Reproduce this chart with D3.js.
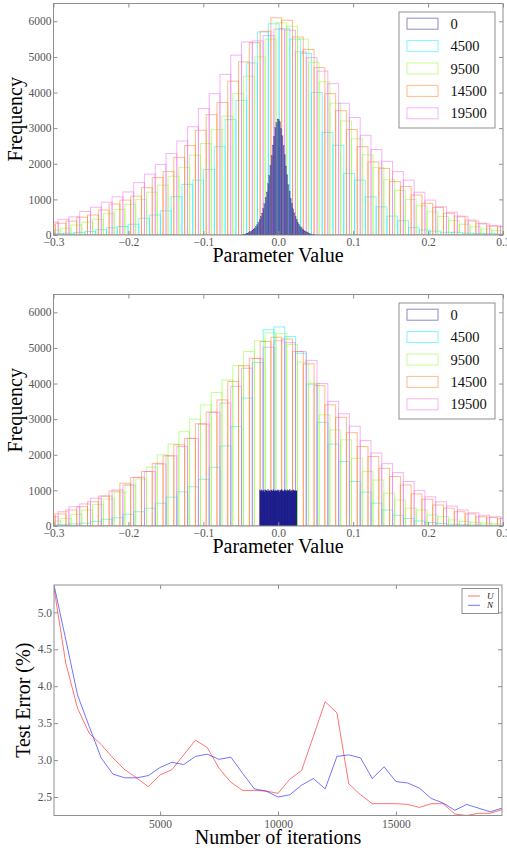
<!DOCTYPE html>
<html><head><meta charset="utf-8">
<script src="https://cdn.jsdelivr.net/npm/d3@7"></script>
<style>body{margin:0;background:#fff}svg{display:block}</style>
</head><body>
<svg id="c" width="507" height="848"></svg>
<script>
// ---------- DATA ----------
const seriesLabels = ["0", "4500", "9500", "14500", "19500"];
const histXTicks = [-0.3, -0.2, -0.1, 0.0, 0.1, 0.2, 0.3];
const histYTicks = [0, 1000, 2000, 3000, 4000, 5000, 6000];
const binWidth = 0.0144;
const fineBinWidth = 0.0016;
const uniformBinWidth = 0.001;

// top panel (Gaussian initialisation)
const topIter0Start = -0.048;
const topIter0 = [9, 19, 27, 42, 53, 72, 88, 112, 133, 168, 198, 243, 288, 360, 428, 525, 615, 745, 875, 1050, 1210, 1440, 1670, 1960, 2230, 2530, 2770, 3010, 3160, 3260,
                  3240, 3180, 2990, 2790, 2510, 2250, 1940, 1690, 1420, 1230, 1030, 890, 735, 625, 515, 435, 350, 295, 235, 205, 160, 138, 108, 92, 68, 57, 38, 29, 17, 11];
const topStarts = [-0.3013, -0.3055, -0.3122, -0.3082];
const topIter4500 = [40, 50, 70, 100, 150, 200, 240, 300, 470, 560, 680, 1075, 1420, 1540, 1840, 2480, 3240, 3780, 4830, 5700, 5930, 5790, 5500, 5100, 4000, 2880, 2520, 1730, 1540, 1070, 790, 530, 400, 205, 140, 110, 75, 75, 50, 45, 40, 35, 30];
const topIter9500 = [140, 190, 280, 360, 440, 600, 720, 860, 1000, 1200, 1400, 1650, 1900, 2240, 2570, 2960, 3340, 3970, 4460, 5000, 5500, 5960, 5860, 5500, 4850, 4300, 3700, 3200, 2700, 2250, 1900, 1550, 1250, 1000, 820, 650, 520, 400, 300, 230, 170, 120, 90];
const topIter14500 = [290, 330, 390, 500, 560, 700, 870, 980, 1090, 1330, 1610, 1780, 2180, 2510, 2940, 3380, 3720, 4320, 4860, 5400, 5720, 6100, 6030, 5560, 5210, 4700, 3970, 3490, 2960, 2480, 2050, 1870, 1500, 1360, 1120, 890, 775, 610, 530, 420, 330, 250, 230];
const topIter19500 = [360, 440, 510, 660, 780, 920, 1070, 1210, 1470, 1710, 1980, 2290, 2640, 3040, 3550, 3970, 4510, 5050, 5420, 5450, 5600, 5780, 5750, 5140, 4980, 4600, 4250, 3700, 3300, 2800, 2400, 2070, 1780, 1540, 1200, 980, 790, 640, 510, 390, 310, 260, 240];

// middle panel (uniform initialisation)
const midIter0Start = -0.025;
const midIter0 = [1010, 985, 1020, 970, 995, 1005, 960, 1015, 990, 1000, 975, 1025, 980, 1000, 965, 1010, 995, 985, 1020, 990,
                  970, 1005, 1000, 980, 1015, 995, 960, 1010, 990, 1030, 985, 1000, 975, 1020, 995, 1005, 970, 1015, 990, 1000,
                  1025, 980, 1010, 965, 1000, 1015, 985, 1005, 975, 990];
const midStarts = [-0.3081, -0.3055, -0.3122, -0.3082];
const midIter4500 = [30, 40, 60, 80, 130, 190, 230, 330, 400, 500, 640, 810, 960, 1100, 1310, 1650, 2250, 2790, 3590, 4590, 5510, 5590, 5320, 4850, 3980, 2910, 2300, 1810, 1250, 950, 640, 450, 300, 210, 140, 100, 70, 50, 40, 30, 25, 20, 15];
const midIter9500 = [140, 215, 330, 450, 600, 760, 950, 1150, 1320, 1650, 2000, 2300, 2650, 3000, 3400, 3750, 4100, 4500, 4900, 5200, 5420, 5400, 5100, 4600, 4010, 3120, 2700, 2420, 1900, 1530, 1290, 920, 730, 500, 450, 310, 260, 170, 130, 100, 80, 60, 50];
const midIter14500 = [280, 340, 450, 540, 680, 840, 980, 1200, 1360, 1530, 1760, 1970, 2280, 2460, 2870, 3200, 3540, 4060, 4500, 4710, 5180, 5300, 5250, 4900, 4550, 3940, 3400, 3050, 2620, 2230, 1950, 1620, 1390, 1150, 900, 750, 590, 500, 400, 340, 260, 235, 205];
const midIter19500 = [260, 400, 540, 620, 780, 840, 1010, 1150, 1370, 1530, 1740, 1970, 2230, 2460, 2860, 3190, 3450, 3920, 4430, 4700, 5020, 5200, 5150, 4900, 4650, 4000, 3500, 3150, 2800, 2400, 2050, 1750, 1500, 1250, 1000, 820, 680, 560, 450, 370, 300, 260, 230];

// bottom panel (test error)
const iterations = [500, 1000, 1500, 2000, 2500, 3000, 3500, 4000, 4500, 5000, 5500, 6000, 6500, 7000, 7500, 8000, 8500, 9000, 9500, 10000,
                    10500, 11000, 11500, 12000, 12500, 13000, 13500, 14000, 14500, 15000, 15500, 16000, 16500, 17000, 17500, 18000, 18500, 19000, 19500];
const errUniform = [5.33, 4.31, 3.70, 3.36, 3.21, 3.03, 2.87, 2.76, 2.64, 2.80, 2.87, 3.07, 3.27, 3.17, 2.89, 2.70, 2.59, 2.59, 2.58, 2.55,
                    2.74, 2.86, 3.32, 3.79, 3.64, 2.68, 2.53, 2.41, 2.41, 2.41, 2.40, 2.36, 2.41, 2.41, 2.27, 2.25, 2.28, 2.28, 2.33];
const errNormal = [5.37, 4.63, 3.88, 3.45, 3.03, 2.81, 2.76, 2.76, 2.79, 2.90, 2.97, 2.94, 3.05, 3.08, 3.01, 3.04, 2.82, 2.61, 2.58, 2.50,
                   2.53, 2.66, 2.75, 2.61, 3.05, 3.07, 3.03, 2.75, 2.91, 2.71, 2.69, 2.62, 2.48, 2.42, 2.32, 2.40, 2.35, 2.30, 2.35];
const lineLabels = ["U", "N"];
const errXTicks = [5000, 10000, 15000];
const errYTicks = [2.5, 3.0, 3.5, 4.0, 4.5, 5.0];

// ---------- STYLE ----------
const colors = ["#1a1a8c", "#00eeff", "#88ff22", "#ff7a1a", "#ee6cee"];
const serif = "'Liberation Serif','Times New Roman',serif";
const frameColor = "#8f8f8f";
const tickColor = "#555";

const svg = d3.select("#c");

function frameAndAxes(g, xs, ys, xt, yt, xfmt, yfmt, xpad, ypad) {
  const [x0, x1] = xs.range(), [y0, y1] = ys.range();
  const styleAx = sel => {
    sel.select(".domain").remove();
    sel.selectAll(".tick line").attr("stroke", frameColor);
    sel.selectAll(".tick text").attr("font-family", serif).attr("font-size", 11.5).attr("fill", tickColor);
  };
  g.append("g").attr("transform", `translate(0,${y0})`)
    .call(d3.axisBottom(xs).tickValues(xt).tickFormat(xfmt).tickSizeInner(-4).tickSizeOuter(0).tickPadding(xpad)).call(styleAx);
  g.append("g").attr("transform", `translate(0,${y1})`)
    .call(d3.axisTop(xs).tickValues(xt).tickFormat("").tickSizeInner(-4).tickSizeOuter(0)).call(styleAx);
  g.append("g").attr("transform", `translate(${x0},0)`)
    .call(d3.axisLeft(ys).tickValues(yt).tickFormat(yfmt).tickSizeInner(-4).tickSizeOuter(0).tickPadding(ypad)).call(styleAx);
  g.append("g").attr("transform", `translate(${x1},0)`)
    .call(d3.axisRight(ys).tickValues(yt).tickFormat("").tickSizeInner(-4).tickSizeOuter(0)).call(styleAx);
  g.append("rect").attr("x", x0).attr("y", y1).attr("width", x1 - x0).attr("height", y0 - y1)
    .attr("fill", "none").attr("stroke", frameColor).attr("stroke-width", 1);
}

function drawHist(g, xs, ys, start, width, counts, color, strokeW) {
  g.selectAll(null).data(counts).join("rect")
    .attr("x", (d, i) => xs(start + i * width))
    .attr("width", (d, i) => xs(start + (i + 1) * width) - xs(start + i * width))
    .attr("y", d => ys(d))
    .attr("height", d => ys(0) - ys(d))
    .attr("fill", "none")
    .attr("stroke", color).attr("stroke-opacity", 0.5).attr("stroke-width", strokeW || 1);
}

// the densely binned initial histogram: its outlines merge into a solid shape
function drawDense(g, xs, ys, start, width, counts, color, fillOpacity, strokeW) {
  const pts = counts.map((d, i) => ({ x: start + i * width, y: d }));
  pts.push({ x: start + counts.length * width, y: counts[counts.length - 1] });
  g.append("path").datum(pts)
    .attr("d", d3.area().x(d => xs(d.x)).y0(ys(0)).y1(d => ys(d.y)).curve(d3.curveStepAfter))
    .attr("fill", color).attr("fill-opacity", fillOpacity);
  drawHist(g, xs, ys, start, width, counts, color, strokeW);
}

function histPanel(id, top, bottom, s0start, s0width, s0, s0fill, s0stroke, starts, others, labelY) {
  const xs = d3.scaleLinear([-0.3, 0.3], [53.5, 503]);
  const ys = d3.scaleLinear([0, 6500], [bottom, top]);
  const g = svg.append("g");
  const clipId = "clip" + id;
  g.append("clipPath").attr("id", clipId).append("rect")
    .attr("x", 53.5).attr("y", top).attr("width", 503 - 53.5).attr("height", bottom - top);
  const pg = g.append("g").attr("clip-path", `url(#${clipId})`);
  others.forEach((c, k) => drawHist(pg, xs, ys, starts[k], binWidth, c, colors[k + 1]));
  drawDense(pg, xs, ys, s0start, s0width, s0, colors[0], s0fill, s0stroke);
  frameAndAxes(g, xs, ys, histXTicks, histYTicks, d3.format(".1f"), d3.format("d"), 3, 2);
  // legend
  const lx = 399, ly = top + 8.5;
  g.append("rect").attr("x", lx).attr("y", ly).attr("width", 96).attr("height", 116)
    .attr("fill", "#fff").attr("stroke", frameColor).attr("stroke-width", 1);
  seriesLabels.forEach((lab, i) => {
    const cy = ly + 11.7 + i * 22.4;
    g.append("rect").attr("x", lx + 8).attr("y", cy - 5.5).attr("width", 31).attr("height", 11)
      .attr("fill", "none").attr("stroke", colors[i]).attr("stroke-opacity", 0.5).attr("stroke-width", 1);
    g.append("text").attr("x", lx + 51.5).attr("y", cy + 5).text(lab)
      .attr("font-family", serif).attr("font-size", 14.5).attr("fill", "#111");
  });
  // axis labels
  g.append("text").attr("x", 278).attr("y", labelY).attr("text-anchor", "middle")
    .attr("font-family", serif).attr("font-size", 20).text("Parameter Value");
  g.append("text").attr("transform", `translate(22,${(top + bottom) / 2}) rotate(-90)`).attr("text-anchor", "middle")
    .attr("font-family", serif).attr("font-size", 20).text("Frequency");
}

histPanel("t", 3.5, 235, topIter0Start, fineBinWidth, topIter0, 0.55, 0.25, topStarts,
  [topIter4500, topIter9500, topIter14500, topIter19500], 262);
histPanel("m", 294.5, 526, midIter0Start, uniformBinWidth, midIter0, 0.95, 0.4, midStarts,
  [midIter4500, midIter9500, midIter14500, midIter19500], 553);

// ---------- bottom line chart ----------
(function () {
  const xs = d3.scaleLinear(d3.extent(iterations), [54, 502]);
  const ys = d3.scaleLinear(d3.extent(errUniform.concat(errNormal)), [815.5, 585]);
  const g = svg.append("g");
  g.append("clipPath").attr("id", "clipb").append("rect")
    .attr("x", 54).attr("y", 585).attr("width", 448).attr("height", 230.5);
  const pg = g.append("g").attr("clip-path", "url(#clipb)");
  const series = [errUniform, errNormal];
  const lc = ["#ff0000", "#0000ff"];
  series.forEach((s, k) => {
    pg.append("path").datum(s)
      .attr("d", d3.line().x((d, i) => xs(iterations[i])).y(d => ys(d)))
      .attr("fill", "none").attr("stroke", lc[k]).attr("stroke-opacity", 0.55).attr("stroke-width", 1);
  });
  frameAndAxes(g, xs, ys, errXTicks, errYTicks, d3.format("d"), d3.format(".1f"), 4, 2);
  // legend
  g.append("rect").attr("x", 462).attr("y", 588.5).attr("width", 36.5).attr("height", 25)
    .attr("fill", "#fff").attr("stroke", frameColor).attr("stroke-width", 1);
  lineLabels.forEach((lab, i) => {
    const cy = 596 + i * 9.3;
    g.append("line").attr("x1", 468).attr("x2", 480).attr("y1", cy).attr("y2", cy)
      .attr("stroke", lc[i]).attr("stroke-opacity", 0.55).attr("stroke-width", 1);
    g.append("text").attr("x", 487).attr("y", cy + 3).text(lab)
      .attr("font-family", serif).attr("font-style", "italic").attr("font-size", 9).attr("fill", "#111");
  });
  g.append("text").attr("x", 278).attr("y", 843.5).attr("text-anchor", "middle")
    .attr("font-family", serif).attr("font-size", 20).text("Number of iterations");
  g.append("text").attr("transform", `translate(30,${(585 + 815.5) / 2}) rotate(-90)`).attr("text-anchor", "middle")
    .attr("font-family", serif).attr("font-size", 20).text("Test Error (%)");
})();
</script></body></html>
